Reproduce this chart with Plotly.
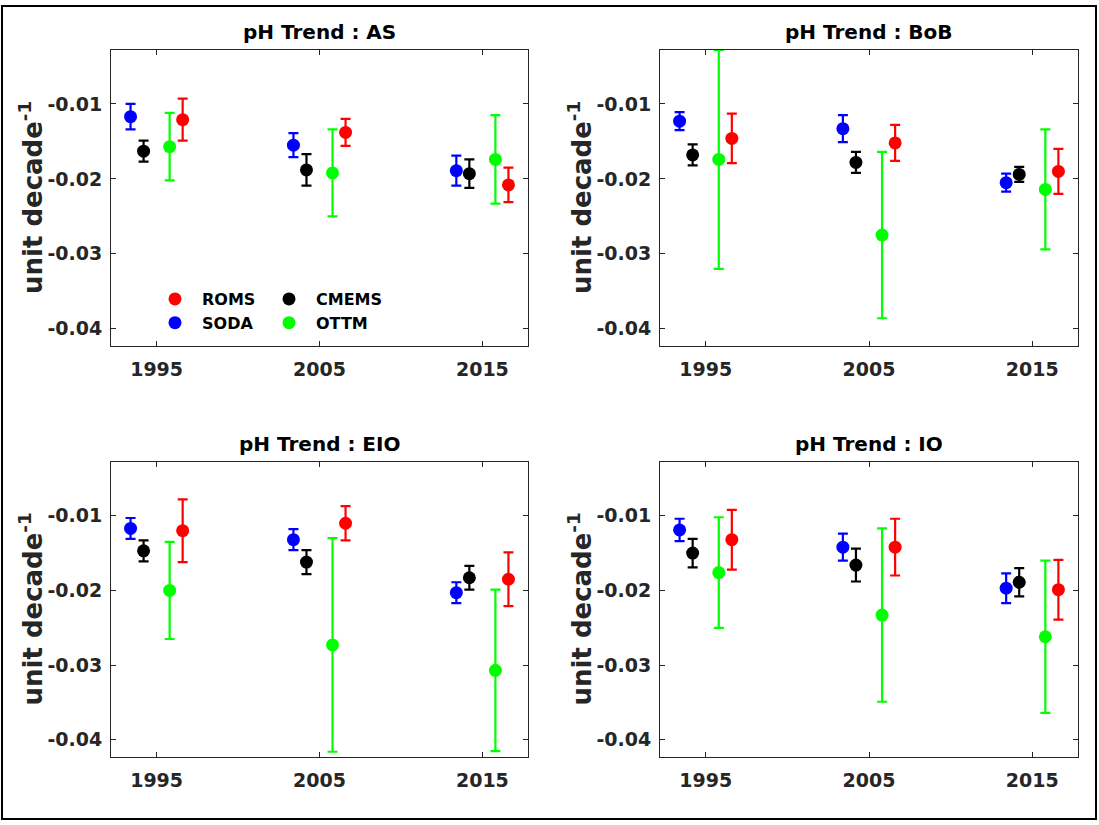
import plotly.graph_objects as go

# ---------------- data ----------------
years = [1995, 2005, 2015]
regions = ["AS", "BoB", "EIO", "IO"]
models = ["ROMS", "SODA", "CMEMS", "OTTM"]

# AS
AS_ROMS = [-0.0121, -0.0138, -0.0208]
AS_ROMS_err = [0.0028, 0.0018, 0.0023]
AS_SODA = [-0.0117, -0.0155, -0.0189]
AS_SODA_err = [0.0017, 0.0016, 0.0020]
AS_CMEMS = [-0.0163, -0.0188, -0.0193]
AS_CMEMS_err = [0.0014, 0.0021, 0.0019]
AS_OTTM = [-0.0157, -0.0192, -0.0174]
AS_OTTM_err = [0.0045, 0.0058, 0.0059]

# BoB
BoB_ROMS = [-0.0146, -0.0152, -0.0190]
BoB_ROMS_err = [0.0033, 0.0024, 0.0030]
BoB_SODA = [-0.0123, -0.0133, -0.0205]
BoB_SODA_err = [0.0012, 0.0018, 0.0012]
BoB_CMEMS = [-0.0168, -0.0178, -0.0194]
BoB_CMEMS_err = [0.0014, 0.0014, 0.0010]
BoB_OTTM = [-0.0174, -0.0275, -0.0214]
BoB_OTTM_err = [0.0146, 0.0111, 0.0080]

# EIO
EIO_ROMS = [-0.0120, -0.0110, -0.0185]
EIO_ROMS_err = [0.0042, 0.0023, 0.0036]
EIO_SODA = [-0.0117, -0.0132, -0.0203]
EIO_SODA_err = [0.0014, 0.0014, 0.0014]
EIO_CMEMS = [-0.0147, -0.0162, -0.0183]
EIO_CMEMS_err = [0.0014, 0.0016, 0.0016]
EIO_OTTM = [-0.0200, -0.0273, -0.0307]
EIO_OTTM_err = [0.0065, 0.0143, 0.0108]

# IO
IO_ROMS = [-0.0132, -0.0142, -0.0199]
IO_ROMS_err = [0.0040, 0.0038, 0.0040]
IO_SODA = [-0.0119, -0.0142, -0.0197]
IO_SODA_err = [0.0015, 0.0018, 0.0020]
IO_CMEMS = [-0.0150, -0.0166, -0.0189]
IO_CMEMS_err = [0.0019, 0.0022, 0.0019]
IO_OTTM = [-0.0176, -0.0233, -0.0262]
IO_OTTM_err = [0.0074, 0.0116, 0.0102]

ytick_vals = [-0.04, -0.03, -0.02, -0.01]
ytick_text = ["-0.04", "-0.03", "-0.02", "-0.01"]
xtick_text = ["1995", "2005", "2015"]

data = {
    "AS": {"ROMS": (AS_ROMS, AS_ROMS_err), "SODA": (AS_SODA, AS_SODA_err),
           "CMEMS": (AS_CMEMS, AS_CMEMS_err), "OTTM": (AS_OTTM, AS_OTTM_err)},
    "BoB": {"ROMS": (BoB_ROMS, BoB_ROMS_err), "SODA": (BoB_SODA, BoB_SODA_err),
            "CMEMS": (BoB_CMEMS, BoB_CMEMS_err), "OTTM": (BoB_OTTM, BoB_OTTM_err)},
    "EIO": {"ROMS": (EIO_ROMS, EIO_ROMS_err), "SODA": (EIO_SODA, EIO_SODA_err),
            "CMEMS": (EIO_CMEMS, EIO_CMEMS_err), "OTTM": (EIO_OTTM, EIO_OTTM_err)},
    "IO": {"ROMS": (IO_ROMS, IO_ROMS_err), "SODA": (IO_SODA, IO_SODA_err),
           "CMEMS": (IO_CMEMS, IO_CMEMS_err), "OTTM": (IO_OTTM, IO_OTTM_err)},
}

# ---------------- style ----------------
colors = {"ROMS": "#ff0000", "SODA": "#0000ff", "CMEMS": "#000000", "OTTM": "#00ff00"}
offsets = {"SODA": -1.6, "CMEMS": -0.8, "OTTM": 0.8, "ROMS": 1.6}
legend_of = {"ROMS": "legend", "SODA": "legend", "CMEMS": "legend2", "OTTM": "legend2"}
draw_order = ["SODA", "CMEMS", "OTTM", "ROMS"]
legend_rank = {"ROMS": 1, "SODA": 2, "CMEMS": 1, "OTTM": 2}

W, H = 1099, 825
FONT = "DejaVu Sans"
TXT = "#262626"

xdom = {"AS": (111, 528), "BoB": (660, 1078), "EIO": (111, 528), "IO": (660, 1078)}
ydom = {"AS": (50, 346), "BoB": (50, 346), "EIO": (462, 757), "IO": (462, 757)}

fig = go.Figure()

for i, reg in enumerate(regions):
    ax = "" if i == 0 else str(i + 1)
    for m in draw_order:
        vals, errs = data[reg][m]
        fig.add_trace(go.Scatter(
            x=[y + offsets[m] for y in years], y=vals,
            mode="markers", name=m,
            marker=dict(color=colors[m], size=13, symbol="circle"),
            error_y=dict(type="data", array=errs, visible=True,
                         color=colors[m], thickness=2.2, width=5),
            xaxis="x" + ax, yaxis="y" + ax,
            showlegend=(reg == "AS"), legend=legend_of[m],
            legendrank=legend_rank[m],
        ))
    x0, x1 = xdom[reg]
    y0, y1 = ydom[reg]
    axis_common = dict(showgrid=False, zeroline=False, showline=True,
                       linecolor=TXT, linewidth=1, mirror="ticks",
                       ticks="inside", ticklen=5, tickwidth=1, tickcolor=TXT,
                       tickfont=dict(family=FONT, size=19, color=TXT, weight="bold"))
    fig.layout["xaxis" + ax] = dict(
        domain=[x0 / W, x1 / W], range=[1992.2, 2017.8],
        tickvals=years, ticktext=xtick_text, anchor="y" + ax,
        ticklabelstandoff=6, **axis_common)
    fig.layout["yaxis" + ax] = dict(
        domain=[1 - y1 / H, 1 - y0 / H], range=[-0.0423, -0.0028],
        tickvals=ytick_vals, ticktext=ytick_text, anchor="x" + ax,
        ticklabelstandoff=4, **axis_common)
    # panel title
    fig.add_annotation(text="pH Trend : " + reg, xref="paper", yref="paper",
                       x=(x0 + x1) / 2 / W, y=1 - (y0 - 18) / H,
                       xanchor="center", yanchor="middle", showarrow=False,
                       font=dict(family=FONT, size=20, color="#000000", weight="bold"))
    # y-axis label
    fig.add_annotation(text="unit decade<sup>-1</sup>", xref="paper", yref="paper",
                       x=(x0 - 80) / W, y=1 - (y0 + y1) / 2 / H, textangle=-90,
                       xanchor="center", yanchor="middle", showarrow=False,
                       font=dict(family=FONT, size=26, color=TXT, weight="bold"))

leg_common = dict(bgcolor="rgba(0,0,0,0)", borderwidth=0, orientation="v",
                  itemwidth=44, tracegroupgap=0, xanchor="left", yanchor="top",
                  font=dict(family=FONT, size=16, color="#000000", weight="bold"))
fig.update_layout(
    width=W, height=H,
    margin=dict(l=0, r=0, t=0, b=0),
    paper_bgcolor="white", plot_bgcolor="white",
    legend=dict(x=148 / W, y=1 - 282 / H, **leg_common),
    legend2=dict(x=262 / W, y=1 - 282 / H, **leg_common),
    shapes=[dict(type="rect", xref="paper", yref="paper",
                 x0=2 / W, x1=1096 / W, y0=1 - 819 / H, y1=1 - 6 / H,
                 line=dict(color="#000000", width=2), fillcolor="rgba(0,0,0,0)")],
)

fig.write_html("out.html")
